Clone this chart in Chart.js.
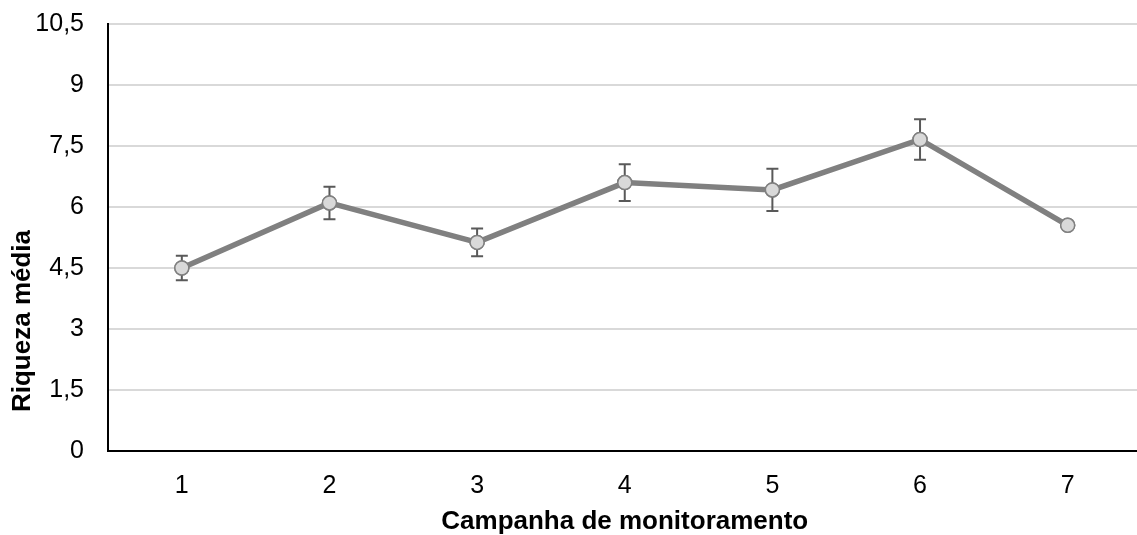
<!DOCTYPE html>
<html>
<head>
<meta charset="utf-8">
<script src="https://cdn.jsdelivr.net/npm/chart.js@4/dist/chart.umd.min.js"></script>
<style>
  html, body { margin: 0; padding: 0; background: #fff; overflow: hidden; }
  #wrap { width: 1150px; height: 535px; }
</style>
</head>
<body>
<div id="wrap"><canvas id="chart" width="1150" height="535"></canvas></div>
<script>
// Campaign numbers (x axis)
const campanhas = ['1', '2', '3', '4', '5', '6', '7'];
// Mean richness per campaign
const riquezaMedia = [4.5, 6.1, 5.13, 6.6, 6.42, 7.66, 5.55];
// Error (+/-) per campaign, none on the last one
const erro = [0.3, 0.4, 0.34, 0.45, 0.52, 0.5, 0];
// y axis ticks
const yMax = 10.5;
const yStep = 1.5;

const FONT = "'Liberation Sans', Arial, sans-serif";

// draws the error bars using the chart's own scales
const errorBars = {
  id: 'errorBars',
  afterDatasetsDraw(chart) {
    const ctx = chart.ctx;
    const xs = chart.scales.x;
    const ys = chart.scales.y;
    ctx.save();
    ctx.strokeStyle = '#595959';
    ctx.lineWidth = 2;
    riquezaMedia.forEach((v, i) => {
      if (!erro[i]) return;
      const x = xs.getPixelForValue(i);
      const top = ys.getPixelForValue(v + erro[i]);
      const bot = ys.getPixelForValue(v - erro[i]);
      ctx.beginPath();
      ctx.moveTo(x, top); ctx.lineTo(x, bot);
      ctx.moveTo(x - 6, top); ctx.lineTo(x + 6, top);
      ctx.moveTo(x - 6, bot); ctx.lineTo(x + 6, bot);
      ctx.stroke();
    });
    ctx.restore();
    // redraw points over the bars
    chart.getDatasetMeta(0).data.forEach(p => p.draw(ctx));
  }
};

// y title sits lower than the middle of the axis in the original
const yTitle = {
  id: 'yTitle',
  afterDraw(chart) {
    const ctx = chart.ctx;
    ctx.save();
    ctx.translate(23, 321);
    ctx.rotate(-Math.PI / 2);
    ctx.font = 'bold 26px ' + FONT;
    ctx.fillStyle = '#000';
    ctx.textAlign = 'center';
    ctx.textBaseline = 'middle';
    ctx.fillText('Riqueza média', 0, 0);
    ctx.restore();
  }
};

new Chart(document.getElementById('chart'), {
  type: 'line',
  data: {
    labels: campanhas,
    datasets: [{
      data: riquezaMedia,
      borderColor: '#808080',
      borderWidth: 5.5,
      pointRadius: 7,
      pointBackgroundColor: '#d9d9d9',
      pointBorderColor: '#808080',
      pointBorderWidth: 1.5,
      tension: 0
    }]
  },
  options: {
    responsive: false,
    animation: false,
    layout: { padding: { top: 24, left: 0, right: 0, bottom: 0 } },
    plugins: { legend: { display: false }, tooltip: { enabled: false } },
    scales: {
      x: {
        offset: true,
        afterFit(scale) { scale.height = 84; },
        grid: { display: false, drawTicks: false },
        border: { color: '#000', width: 2 },
        ticks: { color: '#000', padding: 20, font: { family: FONT, size: 25 } },
        title: {
          display: true,
          text: 'Campanha de monitoramento',
          color: '#000',
          padding: { top: 0, bottom: -2 },
          font: { family: FONT, size: 26, weight: 'bold' }
        }
      },
      y: {
        min: 0,
        max: yMax,
        afterFit(scale) {
          scale.width = 108;
          scale.paddingTop = 0;
          scale.paddingBottom = 0;
        },
        afterBuildTicks(scale) {
          const t = [];
          for (let v = 0; v <= yMax + 1e-9; v += yStep) t.push({ value: +v.toFixed(2) });
          scale.ticks = t;
        },
        grid: { color: '#d9d9d9', lineWidth: 2, drawTicks: false },
        border: { color: '#000', width: 2 },
        ticks: {
          color: '#000',
          padding: 24,
          font: { family: FONT, size: 25 },
          callback: v => String(v).replace('.', ',')
        },
        title: { display: false }
      }
    }
  },
  plugins: [errorBars, yTitle]
});
</script>
</body>
</html>
